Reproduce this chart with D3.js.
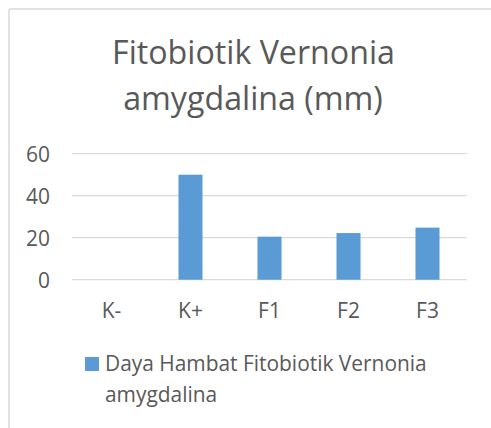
<!DOCTYPE html>
<html>
<head>
<meta charset="utf-8">
<script src="https://cdn.jsdelivr.net/npm/d3@7"></script>
<style>
  html, body { margin: 0; padding: 0; background: #fff; }
  svg { display: block; }
  text { font-family: "Open Sans", "Liberation Sans", sans-serif; fill: #595959; font-variant-ligatures: none; }
</style>
</head>
<body>
<svg id="chart" width="491" height="428"></svg>
<script>
const titleLines = ["Fitobiotik Vernonia", "amygdalina (mm)"];
const categories = ["K-", "K+", "F1", "F2", "F3"];
const values = [0, 50, 20.5, 22.2, 24.8];
const yTicks = [0, 20, 40, 60];
const seriesName = ["Daya Hambat Fitobiotik Vernonia", "amygdalina"];

const W = 491, H = 428;
const FONT = '"Open Sans", "Liberation Sans", sans-serif';
const svg = d3.select("#chart");
const color = "#5b9bd5";
const grid = "#d9d9d9";

// fit a text selection's font-size so its width equals target
function fit(sel, target) {
  sel.style("font-size", "100px");
  const w = sel.node().getComputedTextLength();
  const fs = 100 * target / w;
  sel.style("font-size", fs + "px");
  return fs;
}

// chart border (left & top visible)
svg.append("line").attr("x1", 9).attr("x2", 9).attr("y1", 9).attr("y2", H)
  .attr("stroke", grid).attr("stroke-width", 1.5);
svg.append("line").attr("x1", 9).attr("x2", W).attr("y1", 9).attr("y2", 9)
  .attr("stroke", grid).attr("stroke-width", 1.5);

// title
const t1 = svg.append("text").attr("x", 253.5).attr("y", 64).attr("text-anchor", "middle").text(titleLines[0]);
const tfs = fit(t1, 283);
svg.append("text").attr("x", 253).attr("y", 110).attr("text-anchor", "middle")
  .style("font-size", tfs + "px").text(titleLines[1]);

const x = d3.scaleBand().domain(categories).range([72, 467])
  .paddingInner(0.696).paddingOuter(0.348);
const y = d3.scaleLinear().domain([0, 60]).range([279.7, 153.7]);

// gridlines
svg.append("g").selectAll("line").data(yTicks).join("line")
  .attr("x1", 72).attr("x2", 467)
  .attr("y1", d => y(d)).attr("y2", d => y(d))
  .attr("stroke", grid).attr("stroke-width", 1.3);

// y axis labels
const yAxis = svg.append("g").attr("transform", "translate(50,0)")
  .call(d3.axisLeft(y).tickValues(yTicks).tickSize(0).tickPadding(0));
yAxis.select(".domain").remove();
const probe = svg.append("text").text("60");
const afs = fit(probe, 24);
probe.remove();
yAxis.selectAll("text").attr("fill", "#595959")
  .style("font-family", FONT).style("font-size", afs + "px")
  .attr("dy", "0.36em");

// bars
svg.append("g").selectAll("rect").data(values).join("rect")
  .attr("x", (d, i) => x(categories[i]))
  .attr("width", x.bandwidth())
  .attr("y", d => y(d))
  .attr("height", d => y(0) - y(d))
  .attr("fill", color);

// x axis labels
const xAxis = svg.append("g").attr("transform", "translate(0,318)")
  .call(d3.axisBottom(x).tickSize(0).tickPadding(0));
xAxis.select(".domain").remove();
xAxis.selectAll("text").attr("fill", "#595959").attr("dy", 0)
  .style("font-family", FONT).style("font-size", afs + "px");

// legend
svg.append("rect").attr("x", 85).attr("y", 357).attr("width", 14).attr("height", 14).attr("fill", color);
const l1 = svg.append("text").attr("x", 105).attr("y", 371).text(seriesName[0]);
const lfs = fit(l1, 322);
svg.append("text").attr("x", 105).attr("y", 402).style("font-size", lfs + "px").text(seriesName[1]);
</script>
</body>
</html>
